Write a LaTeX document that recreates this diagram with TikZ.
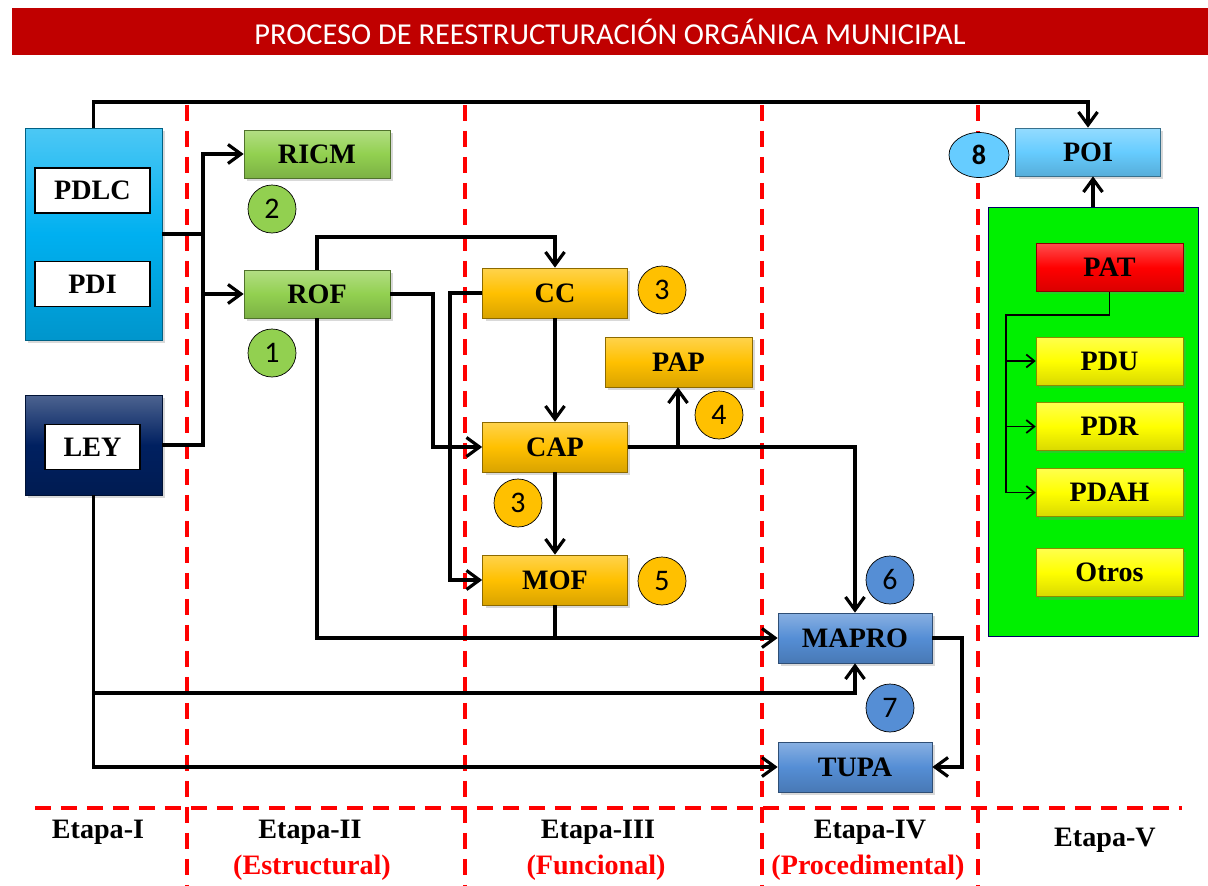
\documentclass[tikz,border=0pt]{standalone}
\usepackage{fontspec}
\setmainfont{Liberation Serif}
\newfontfamily\calibri{Carlito}
\usetikzlibrary{arrows.meta,shadows,shapes.geometric}

\definecolor{rojotit}{HTML}{C00000}
\definecolor{celeste}{HTML}{00B0F0}
\definecolor{marino}{HTML}{002060}
\definecolor{verde}{HTML}{92D050}
\definecolor{naranja}{HTML}{FFC000}
\definecolor{azul}{HTML}{558ED5}
\definecolor{cielo}{HTML}{66CCFF}
\definecolor{lima}{HTML}{00F000}
\definecolor{amarillo}{HTML}{FFFF00}
\definecolor{rojo}{HTML}{FF0000}

\tikzset{
  caja/.style={draw=#1!55!black, top color=#1!70!white, bottom color=#1!85!black, middle color=#1,
    minimum width=2.92cm, minimum height=0.96cm, inner sep=0pt,
    font=\bfseries\fontsize{16}{18}\selectfont,
    drop shadow={opacity=0.3,shadow xshift=0.06cm,shadow yshift=-0.06cm}},
  blanca/.style={draw=black, fill=white, line width=0.9pt, minimum width=2.3cm, minimum height=0.9cm,
    inner sep=0pt, font=\bfseries\fontsize{16}{18}\selectfont},
  num/.style={circle, draw=black, fill=#1, minimum size=0.96cm, inner sep=0pt,
    font=\calibri\fontsize{17}{19}\selectfont},
  linea/.style={line width=1.8pt},
  flecha/.style={line width=1.8pt, -{Straight Barb[length=2.6mm,width=3.8mm]}},
  flechita/.style={line width=1pt, -{Straight Barb[length=1.6mm,width=2.6mm]}},
  corte/.style={draw=red, line width=2pt, dash pattern=on 0.32cm off 0.2cm},
  etapa/.style={font=\bfseries\fontsize{16}{18}\selectfont},
  subetapa/.style={font=\bfseries\fontsize{16}{18}\selectfont, text=red}
}

\begin{document}
\begin{tikzpicture}[x=0.02cm,y=-0.02cm]
\useasboundingbox (0,0) rectangle (1208,886);

%Titulo
\node[fill=rojotit, minimum width=23.92cm, minimum height=0.94cm, inner sep=0pt,
  text=white, font=\calibri\fontsize{17.3}{20}\selectfont] (titulo) at (610,31.5)
  {PROCESO DE REESTRUCTURACIÓN ORGÁNICA MUNICIPAL};

%Divisiones
\foreach \xx in {187,465,762,978}
  \draw[corte] (\xx,105) -- (\xx,886);
\draw[corte] (35,808) -- (1182,808);

%Etapa I
\node[caja=celeste, minimum width=2.74cm, minimum height=4.24cm] (PD) at (93.5,234) {};
\node[blanca] (PDLC) at (92.5,190.5) {PDLC};
\node[blanca] (PDI) at (92.5,284) {PDI};
\node[caja=marino, minimum width=2.74cm, minimum height=2cm] (LEYc) at (93.5,445) {};
\node[blanca, minimum width=1.9cm] (LEY) at (92.5,447) {LEY};

%Etapa II
\node[caja=verde] (RICM) at (317,154) {RICM};
\node[caja=verde] (ROF) at (317,294) {ROF};
\node[num=verde] (n_2) at (272,209) {2};
\node[num=verde] (n_1) at (272,353) {1};

%Etapa III
\node[caja=naranja, minimum width=2.9cm, minimum height=1cm] (CC) at (555,293) {CC};
\node[caja=naranja, minimum width=2.94cm, minimum height=1cm] (PAP) at (678.5,362) {PAP};
\node[caja=naranja, minimum width=2.9cm, minimum height=1cm] (CAP) at (555,447) {CAP};
\node[caja=naranja, minimum width=2.9cm, minimum height=1cm] (MOF) at (555,580) {MOF};
\node[num=naranja] (n_3a) at (662,290) {3};
\node[num=naranja] (n_4) at (719,415) {4};
\node[num=naranja] (n_3b) at (518,503) {3};
\node[num=naranja] (n_5) at (662,581) {5};

%Etapa IV
\node[caja=azul, minimum width=3.08cm, minimum height=1cm] (MAPRO) at (855,638) {MAPRO};
\node[caja=azul, minimum width=3.08cm, minimum height=1cm] (TUPA) at (855,767) {TUPA};
\node[num=azul] (n_6) at (890,580) {6};
\node[num=azul] (n_7) at (890,708) {7};

%Etapa V
\node[caja=cielo, minimum width=2.9cm] (POI) at (1088,152) {POI};
\node[ellipse, draw=black, fill=cielo, minimum width=1.2cm, minimum height=0.9cm, inner sep=0pt,
  font=\calibri\bfseries\fontsize{16}{18}\selectfont] (n_8) at (979,155) {8};
\node[draw=blue!40!black, fill=lima, minimum width=4.2cm, minimum height=8.58cm] (PAN) at (1093,421.5) {};
\node[caja=rojo, minimum width=2.94cm] (PAT) at (1109.5,267.5) {PAT};
\node[caja=amarillo, minimum width=2.94cm] (PDU) at (1109.5,361) {PDU};
\node[caja=amarillo, minimum width=2.94cm] (PDR) at (1109.5,426.5) {PDR};
\node[caja=amarillo, minimum width=2.94cm] (PDAH) at (1109.5,492.5) {PDAH};
\node[caja=amarillo, minimum width=2.94cm] (Otros) at (1109.5,572.5) {Otros};

%Etiquetas de etapas
\node[etapa] (e_1) at (98,832) {Etapa-I};
\node[etapa] (e_2) at (310,832) {Etapa-II};
\node[subetapa] (s_2) at (312,868) {(Estructural)};
\node[etapa] (e_3) at (598,832) {Etapa-III};
\node[subetapa] (s_3) at (596,868) {(Funcional)};
\node[etapa] (e_4) at (870,832) {Etapa-IV};
\node[subetapa] (s_4) at (868,868) {(Procedimental)};
\node[etapa] (e_5) at (1105,840) {Etapa-V};

%Puntos de quiebre
\coordinate (arriba) at (500,102);
\coordinate (bus) at (203,234);
\coordinate (rofarr) at (400,237);
\coordinate (rofder) at (433,447);
\coordinate (ccizq) at (450,580);
\coordinate (papj) at (678,447);
\coordinate (leyj) at (855,693);
\coordinate (mapder) at (962,700);
\coordinate (patj) at (1006,315);

%Conexiones
\draw[flecha] (PD.north) |- (arriba) -| (POI.north);
\draw[linea] (PD.east) -- (bus);
\draw[flecha] (bus) |- (RICM.west);
\draw[flecha] (bus) |- (ROF.west);
\draw[linea] (LEYc.east) -| (bus);

\draw[flecha] (ROF.north) |- (rofarr) -| (CC.north);
\draw[flecha] (ROF.east) -| (rofder) -- (CAP.west);
\draw[flecha] (CC.west) -| (ccizq) -- (MOF.west);
\draw[flecha] (CC) -- (CAP);
\draw[flecha] (CAP) -- (MOF);
\draw[flecha] (CAP.east) -| (MAPRO.north);
\draw[flecha] (papj) -- (papj |- PAP.south);

\draw[flecha] (ROF.south) |- (MAPRO.west);
\draw[linea] (MOF.south) -- (MOF.south |- MAPRO.west);
\draw[flecha] (LEYc.south) |- (leyj) -- (MAPRO.south);
\draw[flecha] (LEYc.south) |- (TUPA.west);
\draw[flecha] (MAPRO.east) -| (mapder) |- (TUPA.east);

\draw[flecha] (PAN.north) -- (PAN.north |- POI.south);
\draw[flechita] (PAT.south) |- (patj) |- (PDU.west);
\draw[flechita] (patj) |- (PDR.west);
\draw[flechita] (patj) |- (PDAH.west);
\end{tikzpicture}
\end{document}
